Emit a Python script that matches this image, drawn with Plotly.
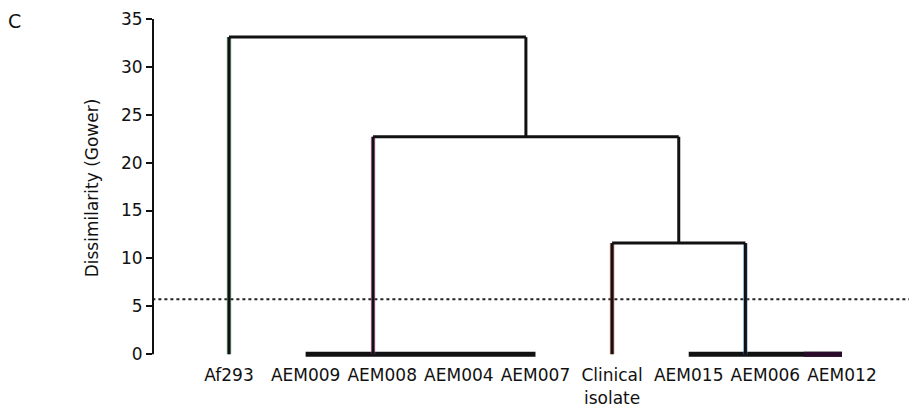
import plotly.graph_objects as go

# Leaves in display order (x positions 1..9)
leaf_labels = ["Af293", "AEM009", "AEM008", "AEM004", "AEM007",
               "Clinical<br>isolate", "AEM015", "AEM006", "AEM012"]

# Zero-height groups: (first leaf, last leaf, attach point, tint)
groups = [
    (1, 1, 1.0, "rgba(47,138,60,0.55)"),
    (2, 5, 2.88, "rgba(194,63,166,0.55)"),
    (6, 6, 6.0, "rgba(192,57,43,0.6)"),
    (7, 9, 7.74, "rgba(63,127,191,0.55)"),
]

# Agglomeration steps: (left child, right child, height)
# children index groups (g0..g3) or earlier merges (m0..)
merges = [
    ("g2", "g3", 11.6),
    ("g1", "m0", 22.7),
    ("g0", "m1", 33.1),
]

cut_level = 5.75
y_ticks = [0, 5, 10, 15, 20, 25, 30, 35]

INK = "#111111"
fig = go.Figure()


def seg(xs, ys, color=INK, width=3, dash=None):
    fig.add_trace(go.Scatter(x=xs, y=ys, mode="lines",
                             line=dict(color=color, width=width, dash=dash),
                             hoverinfo="skip", showlegend=False))


# node attach points and heights
pos = {}
for i, (a, b, xa, tint) in enumerate(groups):
    pos[f"g{i}"] = (xa, 0.0, tint)
for i, (l, r, h) in enumerate(merges):
    xl, hl, tl = pos[l]
    xr, hr, tr = pos[r]
    pos[f"m{i}"] = ((xl + xr) / 2, h, None)

# cut line
seg([0, 10], [cut_level, cut_level], color="#222222", width=2, dash="dot")

# zero-height group bars
for i, (a, b, xa, tint) in enumerate(groups):
    if b > a:
        seg([a, b], [0, 0], width=5)
        if i == 3:
            seg([b - 0.5, b], [0, 0], color="#2a0c2a", width=5)

# merge links: verticals then horizontal
for i, (l, r, h) in enumerate(merges):
    for c in (l, r):
        xc, hc, tint = pos[c]
        if tint:
            seg([xc, xc], [hc, h], color=tint, width=4.5)
        seg([xc, xc], [hc, h], width=3)
    seg([pos[l][0], pos[r][0]], [h, h], width=3)

# y-axis spine from 0 to 35
fig.add_shape(type="line", xref="paper", yref="y", x0=0, x1=0, y0=0, y1=35,
              line=dict(color=INK, width=2))

fig.add_annotation(text="C", xref="paper", yref="paper", x=-0.195, y=1.025,
                   xanchor="left", yanchor="top", showarrow=False,
                   font=dict(size=19, color=INK))

fig.update_layout(
    width=909, height=407,
    margin=dict(l=153, r=0, t=17, b=48),
    plot_bgcolor="white", paper_bgcolor="white",
    font=dict(family="DejaVu Sans", size=17, color=INK),
    xaxis=dict(range=[0.008, 9.875], showgrid=False, zeroline=False,
               showline=False, tickmode="array", automargin=False,
               tickvals=list(range(1, len(leaf_labels) + 1)),
               ticktext=leaf_labels, ticks="outside", ticklen=1,
               tickcolor="rgba(0,0,0,0)", tickfont=dict(size=17)),
    yaxis=dict(range=[-0.5, 35.2], showgrid=False, zeroline=False,
               showline=False, tickmode="array", tickvals=y_ticks,
               automargin=False,
               ticks="outside", ticklen=6, tickwidth=2, tickcolor=INK,
               tickfont=dict(size=17),
               title=dict(text="Dissimilarity (Gower)", font=dict(size=17),
                          standoff=18)),
)

fig.write_html("out.html")
